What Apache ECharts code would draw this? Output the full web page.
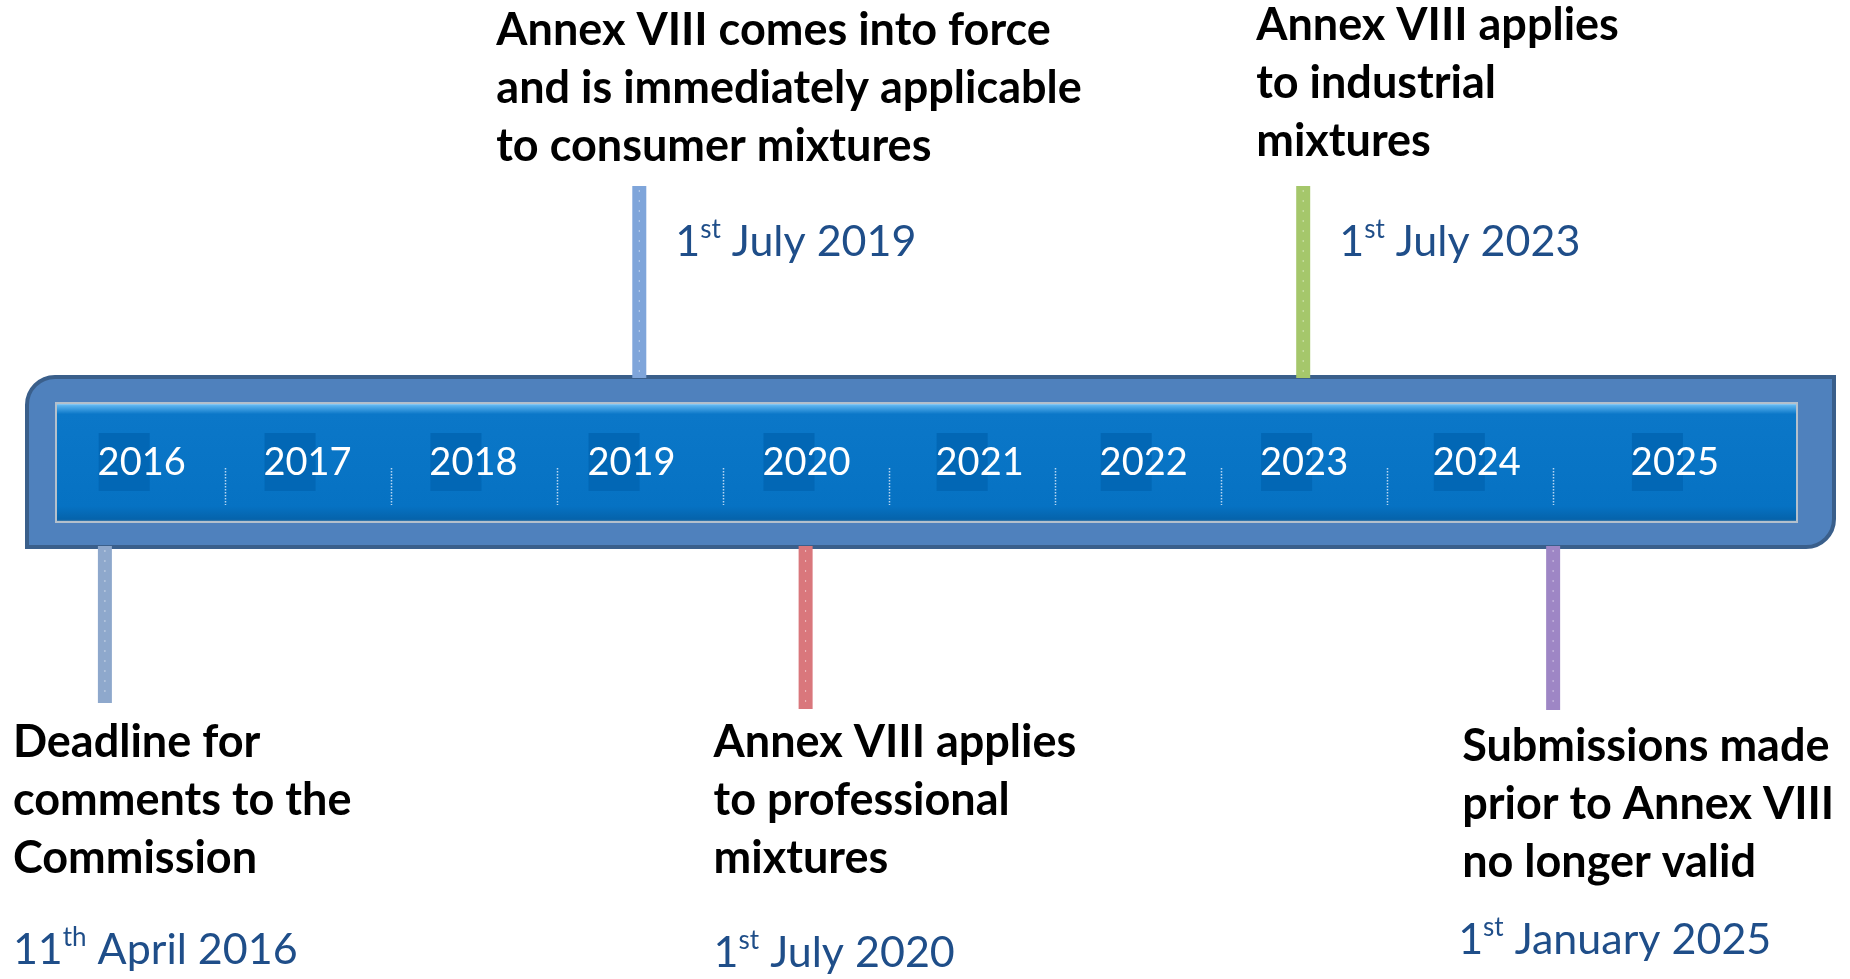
<!DOCTYPE html>
<html>
<head>
<meta charset="utf-8">
<title>Annex VIII timeline</title>
<script src="https://cdn.jsdelivr.net/npm/echarts@6/dist/echarts.min.js"></script>
<style>
    html, body { margin: 0; padding: 0; background: #ffffff; }
    #chart { width: 1850px; height: 979px; }
</style>
</head>
<body>
<div id="chart"></div>
<script>
// time scale of the bar
var axisStart = '2016-01-01';
var axisEnd = '2026-01-01';

// year tabs on the bar (where each label sits)
var years = ['2016', '2017', '2018', '2019', '2020', '2021', '2022', '2023', '2024', '2025'];
var yearLabelDates = ['2016-07-01', '2017-07-01', '2018-07-01', '2019-06-14', '2020-07-03',
                      '2021-07-19', '2022-07-15', '2023-07-03', '2024-07-17', '2025-09-26'];
// dotted dividers between the years
var dividerDates = ['2017-01-01', '2018-01-01', '2019-01-01', '2020-01-01', '2021-01-01',
                    '2022-01-01', '2023-01-01', '2024-01-01', '2025-01-01'];

// milestones
var eventDates = ['2016-04-11', '2019-07-01', '2020-07-01', '2023-07-01', '2025-01-01'];
var eventDay = ['11', '1', '1', '1', '1'];
var eventSuffix = ['th', 'st', 'st', 'st', 'st'];
var eventRest = [' April 2016', ' July 2019', ' July 2020', ' July 2023', ' January 2025'];
var eventTexts = [
    ['Deadline for', 'comments to the', 'Commission'],
    ['Annex VIII comes into force', 'and is immediately applicable', 'to consumer mixtures'],
    ['Annex VIII applies', 'to professional', 'mixtures'],
    ['Annex VIII applies', 'to industrial', 'mixtures'],
    ['Submissions made', 'prior to Annex VIII', 'no longer valid']
];

// ---- layout / styles ----
var FONT = 'Lato, "Open Sans", sans-serif';
var DATE_BLUE = '#1f4e89';
var stemColors = ['#8ea8cc', '#7fa5da', '#d9777c', '#a5c76b', '#9e86c5'];
// stem span, text block offset from stem, date offset from stem
var stemLayout = [
    {y0: 546, y1: 703, tx: -92,  ty: 713, dx: -92, dy: 950},
    {y0: 186, y1: 378, tx: -143, ty: 1,   dx: 36,  dy: 242},
    {y0: 546, y1: 709, tx: -92,  ty: 713, dx: -92, dy: 953},
    {y0: 186, y1: 378, tx: -47,  ty: -4,  dx: 36,  dy: 242},
    {y0: 546, y1: 710, tx: -91,  ty: 717, dx: -95, dy: 940}
];

var chart = echarts.init(document.getElementById('chart'));

function renderYear(params, api) {
    var x = api.coord([api.value(0), 0])[0];
    return {
        type: 'group',
        children: [
            {type: 'rect', shape: {x: x - 43, y: 433, width: 51, height: 58},
             style: {fill: '#0267b5'}},
            {type: 'text', style: {
                text: years[params.dataIndex], x: x, y: 463,
                align: 'center', verticalAlign: 'middle',
                fill: '#ffffff', fontFamily: FONT, fontSize: 38
            }}
        ]
    };
}

function renderDivider(params, api) {
    var x = Math.round(api.coord([api.value(0), 0])[0]) + 0.5;
    return {
        type: 'line',
        shape: {x1: x, y1: 468, x2: x, y2: 505},
        style: {stroke: 'rgba(215,232,250,0.85)', lineWidth: 1.5, lineDash: [1.5, 1.5]}
    };
}

function renderEvent(params, api) {
    var i = params.dataIndex;
    var lay = stemLayout[i];
    var x = api.coord([api.value(0), 0])[0];
    var rich = {
        n: {fontFamily: FONT, fontSize: 43, fill: DATE_BLUE, lineHeight: 50},
        s: {fontFamily: FONT, fontSize: 26, fill: DATE_BLUE, lineHeight: 28, verticalAlign: 'top'}
    };
    return {
        type: 'group',
        children: [
            {type: 'rect', shape: {x: x - 7, y: lay.y0, width: 14, height: lay.y1 - lay.y0},
             style: {fill: stemColors[i]}},
            {type: 'line', shape: {x1: x, y1: lay.y0 + 4, x2: x, y2: lay.y1 - 4},
             style: {stroke: 'rgba(255,255,255,0.5)', lineWidth: 1, lineDash: [2, 8]}},
            {type: 'text', style: {
                text: eventTexts[i].join('\n'),
                x: x + lay.tx, y: lay.ty, align: 'left', verticalAlign: 'top',
                fill: '#000000', fontFamily: FONT, fontWeight: 'bold', fontSize: 45, lineHeight: 58
            }},
            {type: 'text', style: {
                text: '{n|' + eventDay[i] + '}{s|' + eventSuffix[i] + '}{n|' + eventRest[i] + '}',
                x: x + lay.dx, y: lay.dy, align: 'left', verticalAlign: 'middle',
                rich: rich
            }}
        ]
    };
}

var option = {
    animation: false,
    backgroundColor: '#ffffff',
    grid: {left: 59, right: 131, top: 0, bottom: 0},
    xAxis: {type: 'time', min: axisStart, max: axisEnd, show: false},
    yAxis: {type: 'value', min: 0, max: 979, inverse: true, show: false},
    graphic: [
        // outer timeline band
        {type: 'rect', z: 1, shape: {x: 27, y: 377, width: 1807, height: 170, r: [28, 0, 28, 0]},
         style: {fill: '#4f81bd', stroke: '#3a5f8b', lineWidth: 4}},
        // inner glossy bar
        {type: 'rect', z: 2, shape: {x: 56, y: 403, width: 1741, height: 119},
         style: {
            stroke: '#b4c0cc', lineWidth: 2,
            fill: new echarts.graphic.LinearGradient(0, 0, 0, 1, [
                {offset: 0, color: '#d6f0fd'},
                {offset: 0.03, color: '#5ab2ee'},
                {offset: 0.1, color: '#0b77c8'},
                {offset: 0.86, color: '#0672c3'},
                {offset: 0.97, color: '#0563ab'},
                {offset: 1, color: '#8d9aa8'}
            ])
         }}
    ],
    series: [
        {
            type: 'custom', name: 'dividers', z: 5, silent: true, clip: false,
            renderItem: renderDivider,
            data: dividerDates.map(function (d) { return [d, 0]; })
        },
        {
            type: 'custom', name: 'years', z: 6, silent: true, clip: false,
            renderItem: renderYear,
            data: yearLabelDates.map(function (d) { return [d, 0]; })
        },
        {
            type: 'custom', name: 'milestones', z: 7, silent: true, clip: false,
            renderItem: renderEvent,
            data: eventDates.map(function (d) { return [d, 0]; })
        }
    ]
};

chart.setOption(option);
</script>
</body>
</html>
